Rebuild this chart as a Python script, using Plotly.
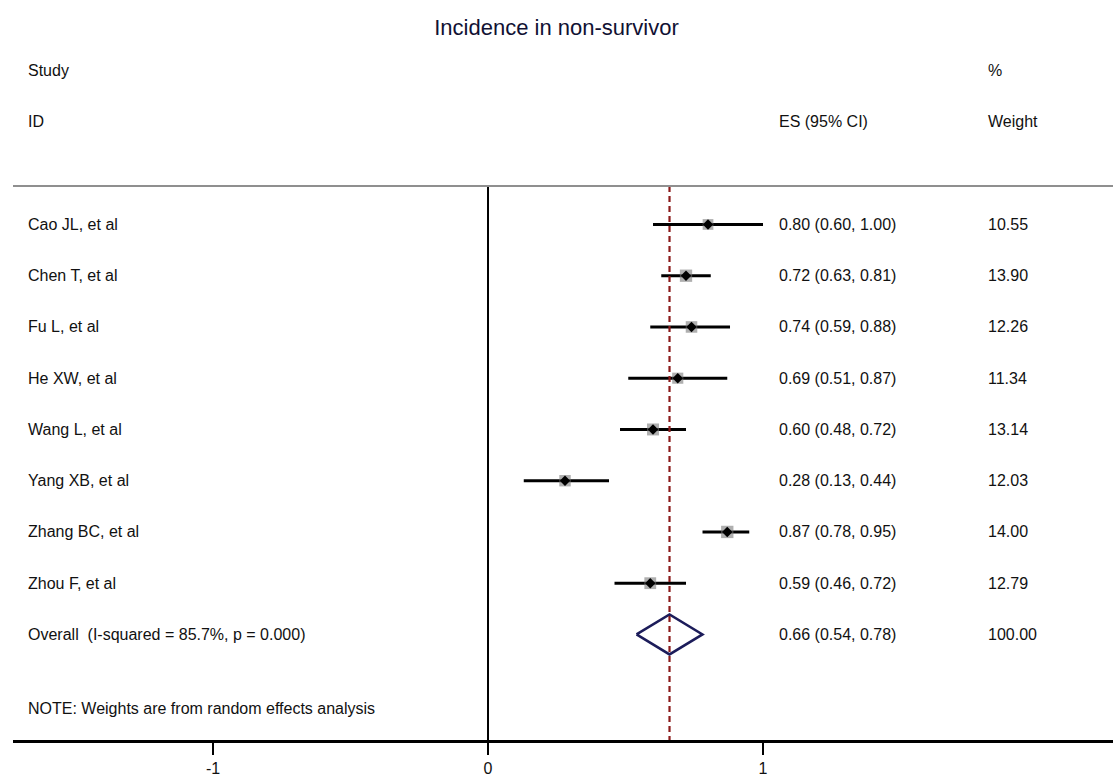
import plotly.graph_objects as go

studies = ["Cao JL, et al", "Chen T, et al", "Fu L, et al", "He XW, et al",
           "Wang L, et al", "Yang XB, et al", "Zhang BC, et al", "Zhou F, et al"]
es = [0.80, 0.72, 0.74, 0.69, 0.60, 0.28, 0.87, 0.59]
lo = [0.60, 0.63, 0.59, 0.51, 0.48, 0.13, 0.78, 0.46]
hi = [1.00, 0.81, 0.88, 0.87, 0.72, 0.44, 0.95, 0.72]
weights = [10.55, 13.90, 12.26, 11.34, 13.14, 12.03, 14.00, 12.79]
overall_label = "Overall  (I-squared = 85.7%, p = 0.000)"
overall_es, overall_lo, overall_hi, overall_w = 0.66, 0.54, 0.78, 100.00
x_ticks = [-1, 0, 1]
title_text = "Incidence in non-survivor"
note_text = "NOTE: Weights are from random effects analysis"

FONT = "Liberation Sans, Arial, sans-serif"
TXT = "#111111"
rows = list(range(len(studies)))
overall_row = len(studies)

# layout geometry (row units on y, effect units on x)
X_NAME, X_ES, X_W = -1.68, 1.052, 1.81
Y_STUDY, Y_ID, Y_RULE, Y_NOTE = -3.0, -2.0, -0.75, 9.45
X_LEFT, X_RIGHT = -1.7273, 2.2727
Y_TOP, Y_BOTTOM = -4.38, 10.06

fig = go.Figure()

# CI lines
cx, cy = [], []
for r, a, b in zip(rows, lo, hi):
    cx += [a, b, None]
    cy += [r, r, None]
fig.add_trace(go.Scatter(x=cx, y=cy, mode="lines",
                         line=dict(color="black", width=3), hoverinfo="skip"))

# weight boxes
fig.add_trace(go.Scatter(x=es, y=rows, mode="markers",
                         marker=dict(symbol="square", color="rgba(120,120,120,0.85)",
                                     size=[3.3 * w ** 0.5 for w in weights],
                                     line=dict(width=0))))
# point estimates
fig.add_trace(go.Scatter(x=es, y=rows, mode="markers",
                         marker=dict(symbol="diamond", color="black", size=8)))

# overall diamond
h = 0.39
fig.add_trace(go.Scatter(
    x=[overall_lo, overall_es, overall_hi, overall_es, overall_lo],
    y=[overall_row, overall_row - h, overall_row, overall_row + h, overall_row],
    mode="lines", line=dict(color="#1c1c5a", width=2.5)))

# null line and overall line
fig.add_shape(type="line", x0=0, x1=0, y0=Y_RULE, y1=Y_BOTTOM,
              line=dict(color="black", width=2))
fig.add_shape(type="line", x0=overall_es, x1=overall_es, y0=Y_RULE, y1=Y_BOTTOM,
              line=dict(color="#8b1a1a", width=2.2, dash="6px,4px"))
# header rule
fig.add_shape(type="line", x0=X_LEFT, x1=X_RIGHT, y0=Y_RULE, y1=Y_RULE,
              line=dict(color="#8f8f8f", width=2))

def txt(x, y, s, size=16):
    fig.add_annotation(x=x, y=y, text=s, showarrow=False, xanchor="left",
                       yanchor="middle", font=dict(family=FONT, size=size, color=TXT))

txt(X_NAME, Y_STUDY, "Study")
txt(X_NAME, Y_ID, "ID")
txt(X_ES, Y_ID, "ES (95% CI)")
txt(X_W, Y_STUDY, "%")
txt(X_W, Y_ID, "Weight")
for r, s, e, a, b, w in zip(rows, studies, es, lo, hi, weights):
    txt(X_NAME, r, s)
    txt(X_ES, r, f"{e:.2f} ({a:.2f}, {b:.2f})")
    txt(X_W, r, f"{w:.2f}")
txt(X_NAME, overall_row, overall_label)
txt(X_ES, overall_row, f"{overall_es:.2f} ({overall_lo:.2f}, {overall_hi:.2f})")
txt(X_W, overall_row, f"{overall_w:.2f}")
txt(X_NAME, Y_NOTE, note_text)

fig.update_layout(
    width=1113, height=777,
    margin=dict(l=13, r=0, t=0, b=32),
    paper_bgcolor="white", plot_bgcolor="white",
    showlegend=False,
    title=dict(text=title_text, x=0.5, xanchor="center", y=1 - 27 / 777,
               yanchor="middle", font=dict(family=FONT, size=22, color="#111133")),
    xaxis=dict(range=[X_LEFT, X_RIGHT], tickvals=x_ticks, ticktext=[str(t) for t in x_ticks],
               showgrid=False, zeroline=False, showline=True, linecolor="black",
               linewidth=2.5, ticks="outside", ticklen=12, tickwidth=2, tickcolor="black",
               tickfont=dict(family=FONT, size=16, color=TXT)),
    yaxis=dict(range=[Y_BOTTOM, Y_TOP], visible=False, showgrid=False, zeroline=False),
)

fig.write_html("out.html")
